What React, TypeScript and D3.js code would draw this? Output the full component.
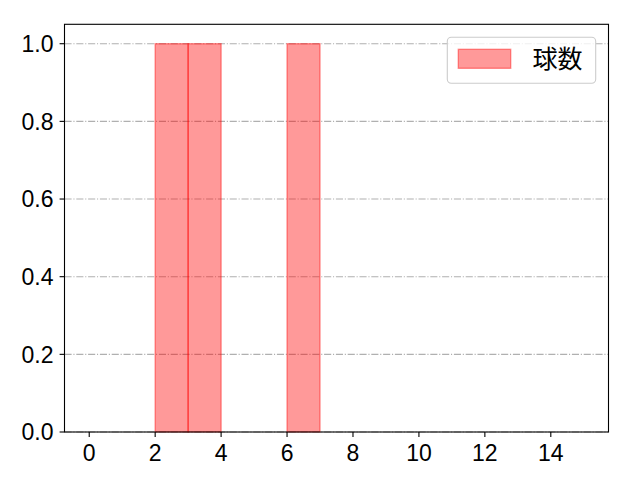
import React, { useEffect, useRef } from 'react';
import * as d3 from 'd3';

// histogram bins (left edge, right edge, count)
const binStarts = [2, 3, 6];
const binEnds = [3, 4, 7];
const binCounts = [1, 1, 1];
const xTicks = [0, 2, 4, 6, 8, 10, 12, 14];
const yTicks = [0, 0.2, 0.4, 0.6, 0.8, 1.0];
const seriesName = '球数';

const W = 640;
const H = 480;
const TICK_FONT = '"Liberation Sans", "Noto Sans CJK JP", sans-serif';
const FONT = '"Noto Sans CJK JP", "Noto Sans", sans-serif';

const App: React.FC = () => {
  const svgRef = useRef<SVGSVGElement>(null);

  useEffect(() => {
    if (!svgRef.current) return;
    const svg = d3.select(svgRef.current);
    svg.selectAll('*').remove();

    const left = 64.5;
    const right = 608.5;
    const top = 24.3;
    const bottom = 432;

    const x = d3.scaleLinear().domain([-0.75, 15.75]).range([left, right]);
    const y = d3.scaleLinear().domain([0, 1.05]).range([bottom, top]);

    // grid
    svg.append('g')
      .selectAll('line')
      .data(yTicks)
      .enter()
      .append('line')
      .attr('x1', left)
      .attr('x2', right)
      .attr('y1', d => y(d))
      .attr('y2', d => y(d))
      .attr('stroke', '#b0b0b0')
      .attr('stroke-width', 1.1)
      .attr('stroke-dasharray', '7.1,1.8,1.1,1.8');

    // bars
    const bins = binStarts.map((s, i) => ({ x0: s, x1: binEnds[i], v: binCounts[i] }));
    svg.append('g')
      .selectAll('rect')
      .data(bins)
      .enter()
      .append('rect')
      .attr('x', d => x(d.x0))
      .attr('y', d => y(d.v))
      .attr('width', d => x(d.x1) - x(d.x0))
      .attr('height', d => y(0) - y(d.v))
      .attr('fill', 'red')
      .attr('fill-opacity', 0.4)
      .attr('stroke', 'red')
      .attr('stroke-opacity', 0.4)
      .attr('stroke-width', 1.4);

    // frame
    svg.append('rect')
      .attr('x', left)
      .attr('y', top)
      .attr('width', right - left)
      .attr('height', bottom - top)
      .attr('fill', 'none')
      .attr('stroke', '#000')
      .attr('stroke-width', 1.1);

    // x ticks
    const xg = svg.append('g');
    xTicks.forEach(t => {
      xg.append('line')
        .attr('x1', x(t)).attr('x2', x(t))
        .attr('y1', bottom).attr('y2', bottom + 4.9)
        .attr('stroke', '#000').attr('stroke-width', 1.1);
      xg.append('text')
        .attr('x', x(t))
        .attr('y', bottom + 29.3)
        .attr('text-anchor', 'middle')
        .attr('font-family', TICK_FONT)
        .attr('font-size', 23)
        .attr('fill', '#000')
        .text(String(t));
    });

    // y ticks
    const yg = svg.append('g');
    yTicks.forEach(t => {
      yg.append('line')
        .attr('x1', left - 4.9).attr('x2', left)
        .attr('y1', y(t)).attr('y2', y(t))
        .attr('stroke', '#000').attr('stroke-width', 1.1);
      yg.append('text')
        .attr('x', left - 11)
        .attr('y', y(t))
        .attr('dy', '0.36em')
        .attr('text-anchor', 'end')
        .attr('font-family', TICK_FONT)
        .attr('font-size', 23)
        .attr('fill', '#000')
        .text(t.toFixed(1));
    });

    // legend
    const lg = svg.append('g');
    lg.append('rect')
      .attr('x', 447.3).attr('y', 37.3)
      .attr('width', 148.4).attr('height', 46)
      .attr('rx', 4)
      .attr('fill', '#fff').attr('fill-opacity', 0.8)
      .attr('stroke', '#cccccc').attr('stroke-width', 1.1);
    lg.append('rect')
      .attr('x', 458.3).attr('y', 49.3)
      .attr('width', 52.4).attr('height', 19)
      .attr('fill', 'red').attr('fill-opacity', 0.4)
      .attr('stroke', 'red').attr('stroke-opacity', 0.4).attr('stroke-width', 1.4);
    lg.append('text')
      .attr('x', 532.5)
      .attr('y', 59)
      .attr('dy', '0.36em')
      .attr('font-family', FONT)
      .attr('font-size', 25)
      .attr('fill', '#000')
      .text(seriesName);
  }, []);

  return (
    <div style={{ width: W, height: H, margin: -8, background: '#fff' }}>
      <svg ref={svgRef} width={W} height={H} style={{ display: 'block' }} />
    </div>
  );
};

export default App;
